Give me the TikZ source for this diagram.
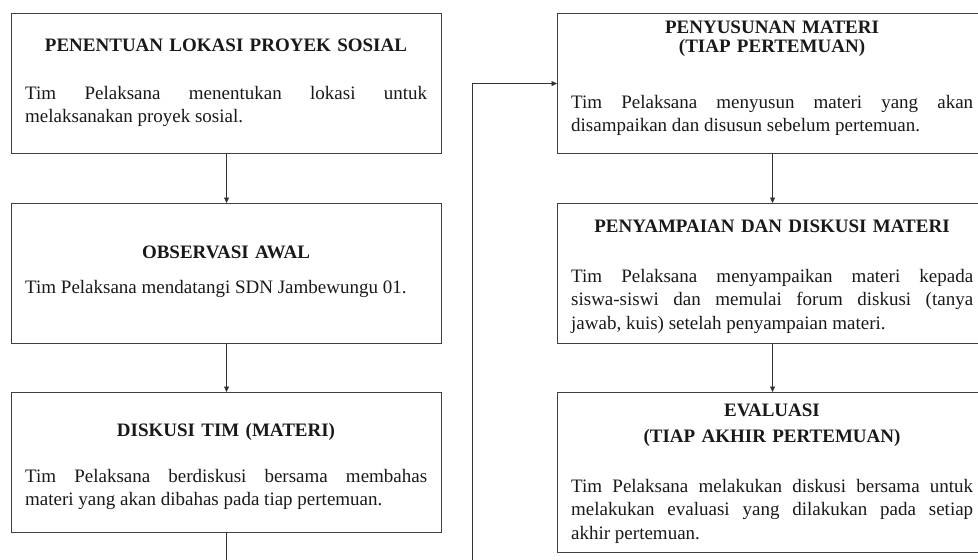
\documentclass[tikz,border=0pt]{standalone}
\usepackage{fontspec}
\setmainfont{Liberation Serif}
\usetikzlibrary{arrows.meta}
\hyphenpenalty=10000
\exhyphenpenalty=10000
\begin{document}
\begin{tikzpicture}[x=1pt,y=-1pt,
  box/.style={draw=black!75, line width=1.1pt, minimum width=430pt, anchor=north west, inner sep=0pt},
  ttl/.style={font=\fontsize{19}{22}\selectfont\bfseries, text width=420pt, align=center, inner sep=0pt, anchor=base, text=black!90},
  body/.style={font=\fontsize{19}{23.5}\selectfont, text width=402pt, align=justify, inner sep=0pt, anchor=base west, text=black!90},
  arr/.style={draw=black!80, line width=0.8pt, -{Triangle[length=5.5pt,width=5pt]}},
]
\useasboundingbox (0,0) rectangle (978,560);
\node[box, minimum height=140pt] (b1) at (11,13) {};
\node[box, minimum height=140pt] (b2) at (11,203) {};
\node[box, minimum height=140pt] (b3) at (11,392) {};
\node[box, minimum height=140pt] (r1) at (557,13) {};
\node[box, minimum height=140pt] (r2) at (557,203) {};
\node[box, minimum height=160pt] (r3) at (557,392) {};

\node[ttl] (t1) at (226,51) {PENENTUAN LOKASI PROYEK SOSIAL};
\node[body] (d1) at (25,99) {Tim Pelaksana menentukan lokasi untuk\linebreak melaksanakan proyek sosial.};
\node[ttl] (t2) at (226,258) {OBSERVASI AWAL};
\node[body] (d2) at (25,293) {Tim Pelaksana mendatangi SDN Jambewungu 01.};
\node[ttl] (t3) at (226,436) {DISKUSI TIM (MATERI)};
\node[body] (d3) at (25,482) {Tim Pelaksana berdiskusi bersama membahas\linebreak materi yang akan dibahas pada tiap pertemuan.};

\node[ttl, font=\fontsize{19}{19.5}\selectfont\bfseries] (t4) at (772,33) {PENYUSUNAN MATERI\\(TIAP PERTEMUAN)};
\node[body] (d4) at (571,108) {Tim Pelaksana menyusun materi yang akan\linebreak disampaikan dan disusun sebelum pertemuan.};
\node[ttl] (t5) at (772,232) {PENYAMPAIAN DAN DISKUSI MATERI};
\node[body] (d5) at (571,282) {Tim Pelaksana menyampaikan materi kepada\linebreak siswa-siswi dan memulai forum diskusi (tanya\linebreak jawab, kuis) setelah penyampaian materi.};
\node[ttl, font=\fontsize{19}{26}\selectfont\bfseries] (t6) at (772,416) {EVALUASI\\(TIAP AKHIR PERTEMUAN)};
\node[body] (d6) at (571,492) {Tim Pelaksana melakukan diskusi bersama untuk\linebreak melakukan evaluasi yang dilakukan pada setiap\linebreak akhir pertemuan.};

\coordinate (lp) at (472,600);
\draw[arr] (b1.south) -- (b2.north);
\draw[arr] (b2.south) -- (b3.north);
\draw[arr] (b3.south) |- (lp) |- (r1.west);
\draw[arr] (r1.south) -- (r2.north);
\draw[arr] (r2.south) -- (r3.north);
\end{tikzpicture}
\end{document}
